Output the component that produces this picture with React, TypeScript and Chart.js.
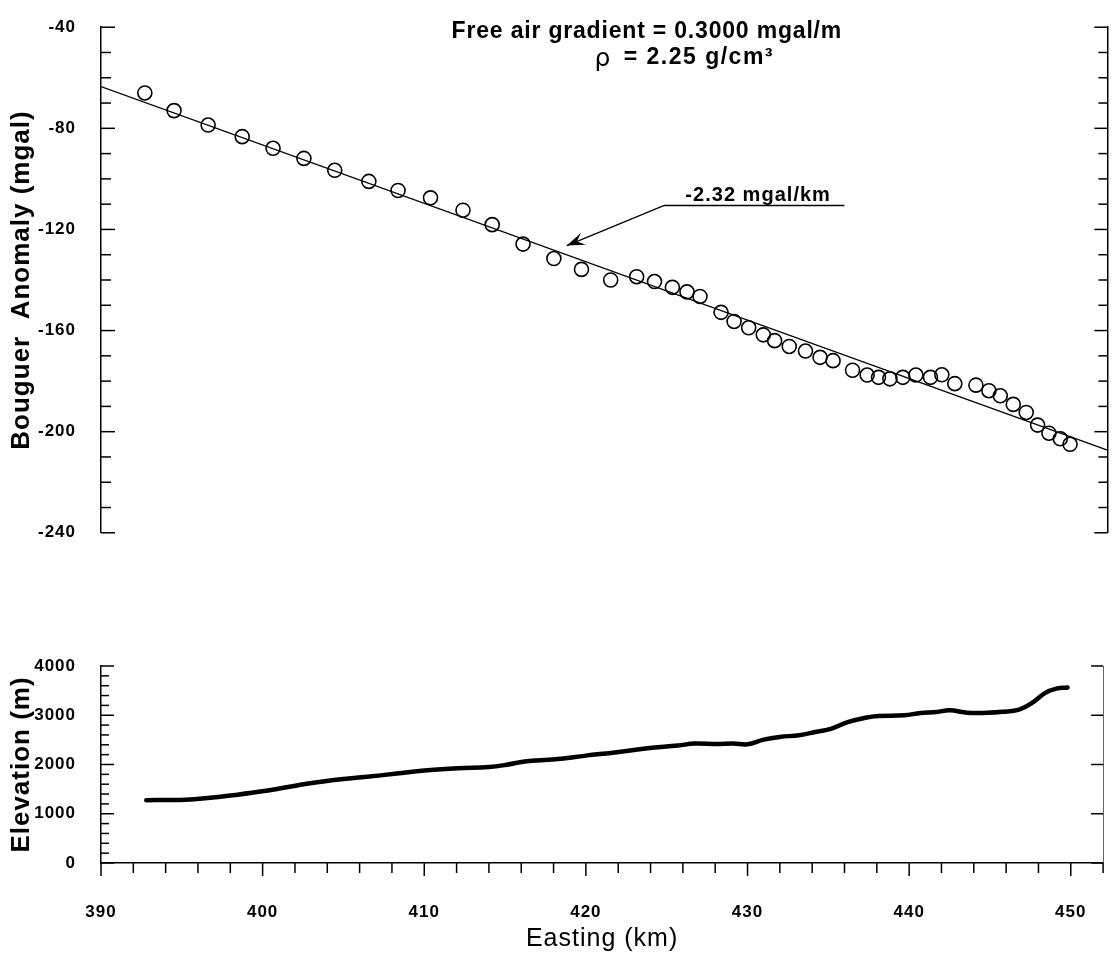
import React, { useEffect, useRef } from 'react';
import { Chart, registerables } from 'chart.js';

Chart.register(...registerables);

const FONT = '"Liberation Sans", Arial, Helvetica, sans-serif';

// ---------------- data ----------------
const EAST_MIN = 390;
const EAST_MAX = 452;
const ANOM_MIN = -240;
const ANOM_MAX = -40;
const ELEV_MIN = 0;
const ELEV_MAX = 4000;

const eastingTicks = [390, 400, 410, 420, 430, 440, 450];
const anomalyTicks = [-240, -200, -160, -120, -80, -40];
const elevationTicks = [0, 1000, 2000, 3000, 4000];

// Bouguer anomaly stations
const anomalyKm = [
  392.7, 394.5, 396.6, 398.7, 400.6, 402.5, 404.4, 406.5, 408.3, 410.3,
  412.3, 414.1, 416.0, 417.9, 419.6, 421.4, 423.0, 424.1, 425.2, 426.1,
  426.9, 428.2, 429.0, 429.9, 430.8, 431.5, 432.4, 433.4, 434.3, 435.1,
  436.3, 437.2, 437.9, 438.6, 439.4, 440.2, 441.1, 441.8, 442.6, 443.9,
  444.7, 445.4, 446.2, 447.0, 447.7, 448.4, 449.1, 449.7,
];
const anomalyMgal = [
  -66.0, -73.0, -78.7, -83.3, -87.9, -91.9, -96.6, -101.0, -104.6, -107.5,
  -112.4, -118.1, -125.8, -131.5, -135.8, -140.0, -138.7, -140.6, -142.9, -144.7,
  -146.5, -152.8, -156.4, -158.9, -161.7, -164.0, -166.3, -168.1, -170.6, -171.9,
  -175.7, -177.6, -178.5, -179.1, -178.5, -177.6, -178.5, -177.5, -181.0, -181.6,
  -183.8, -185.8, -189.2, -192.4, -197.4, -200.6, -202.8, -205.0,
];

// regression line end points
const fitKm = [390, 452];
const fitMgal = [-63.5, -207.3];

// elevation profile
const elevKm = [
  392.8, 394.0, 395.2, 396.6, 398.0, 400.1, 402.2, 404.3, 406.3, 408.3,
  410.0, 412.1, 414.0, 415.1, 416.2, 418.1, 420.0, 421.9, 423.8, 425.7,
  426.7, 428.1, 429.1, 430.0, 431.0, 432.0, 433.2, 434.2, 435.2, 436.2,
  437.3, 438.1, 439.7, 440.7, 441.7, 442.5, 443.6, 444.8, 445.8, 446.8,
  447.6, 448.4, 449.1, 449.8,
];
const elevM = [
  1275, 1280, 1285, 1320, 1370, 1460, 1580, 1680, 1745, 1815,
  1880, 1925, 1950, 1995, 2060, 2105, 2180, 2250, 2330, 2385,
  2425, 2415, 2425, 2410, 2505, 2560, 2595, 2660, 2730, 2860,
  2950, 2985, 3000, 3045, 3065, 3100, 3050, 3050, 3070, 3115,
  3250, 3450, 3540, 3565,
];

const headerLine1 = 'Free air gradient = 0.3000 mgal/m';
const headerRho = 'ρ';
const headerLine2 = '= 2.25 g/cm³';
const slopeLabel = '-2.32 mgal/km';

// ---------------- helpers ----------------
type TickSpec = {
  scale: string;
  side: 'left' | 'right' | 'bottom';
  min: number;
  max: number;
  step: number;
  major: number;
  minorLen: number;
  majorLen: number;
  width: number;
};

function makeTickPlugin(id: string, specs: TickSpec[]) {
  return {
    id,
    beforeDraw(chart: any) {
      chart.ctx.letterSpacing = '1px';
    },
    afterDraw(chart: any) {
      const { ctx, chartArea } = chart;
      ctx.save();
      ctx.strokeStyle = '#000';
      for (const s of specs) {
        const scale = chart.scales[s.scale];
        ctx.lineWidth = s.width;
        const n = Math.round((s.max - s.min) / s.step);
        for (let i = 0; i <= n; i++) {
          const v = s.min + i * s.step;
          const r = v / s.major;
          const isMajor = Math.abs(r - Math.round(r)) < 1e-6;
          const len = isMajor ? s.majorLen : s.minorLen;
          if (len <= 0) continue;
          const p = scale.getPixelForValue(v);
          ctx.beginPath();
          if (s.side === 'left') {
            ctx.moveTo(chartArea.left, p);
            ctx.lineTo(chartArea.left + len, p);
          } else if (s.side === 'right') {
            ctx.moveTo(chartArea.right, p);
            ctx.lineTo(chartArea.right - len, p);
          } else {
            ctx.moveTo(p, chartArea.bottom);
            ctx.lineTo(p, chartArea.bottom + len);
          }
          ctx.stroke();
        }
      }
      ctx.restore();
    },
  };
}

function fitText(ctx: CanvasRenderingContext2D, text: string, x: number, y: number, targetW: number) {
  (ctx as any).letterSpacing = '0px';
  const w = ctx.measureText(text).width;
  const n = Array.from(text).length;
  const ls = n > 1 ? Math.max(0, (targetW - w) / (n - 1)) : 0;
  (ctx as any).letterSpacing = ls.toFixed(2) + 'px';
  ctx.fillText(text, x, y);
  (ctx as any).letterSpacing = '0px';
}

// annotation anchors in data units (km, mgal)
const annot = {
  line1: { x0: 411.6, x1: 435.6, y: -41.9 },
  rho: { x: 420.4, y: -52.1 },
  line2: { x0: 422.2, y: -52.1 },
  slope: { x0: 426.0, x1: 434.9, y: -108.6 },
  underline: { x0: 424.7, x1: 435.8, y: -110.5 },
  tip: { x: 418.7, y: -126.4 },
};

const annotationPlugin = {
  id: 'anomalyAnnotations',
  afterDraw(chart: any) {
    const { ctx } = chart;
    const xs = chart.scales.x;
    const ys = chart.scales.y;
    const X = (v: number) => xs.getPixelForValue(v);
    const Y = (v: number) => ys.getPixelForValue(v);
    ctx.save();
    ctx.fillStyle = '#000';
    ctx.strokeStyle = '#000';
    ctx.textAlign = 'left';
    ctx.textBaseline = 'middle';
    ctx.font = `bold 23px ${FONT}`;
    fitText(ctx, headerLine1, X(annot.line1.x0), Y(annot.line1.y), X(annot.line1.x1) - X(annot.line1.x0));
    ctx.font = `25px "DejaVu Sans", ${FONT}`;
    (ctx as any).letterSpacing = '0px';
    ctx.fillText(headerRho, X(annot.rho.x), Y(annot.rho.y) + 2);
    ctx.font = `bold 23px ${FONT}`;
    (ctx as any).letterSpacing = '1.5px';
    ctx.fillText(headerLine2, X(annot.line2.x0), Y(annot.line2.y));
    (ctx as any).letterSpacing = '0px';

    ctx.textBaseline = 'alphabetic';
    ctx.font = `bold 20px ${FONT}`;
    fitText(ctx, slopeLabel, X(annot.slope.x0), Y(annot.slope.y), X(annot.slope.x1) - X(annot.slope.x0));

    // underline + leader
    const ux0 = X(annot.underline.x0);
    const ux1 = X(annot.underline.x1);
    const uy = Y(annot.underline.y);
    const tx = X(annot.tip.x);
    const ty = Y(annot.tip.y);
    ctx.lineWidth = 1.5;
    ctx.beginPath();
    ctx.moveTo(ux1, uy);
    ctx.lineTo(ux0, uy);
    ctx.lineTo(tx, ty);
    ctx.stroke();
    // arrow head
    const ang = Math.atan2(ty - uy, tx - ux0);
    const L = 18;
    const W = 6.5;
    const cx = Math.cos(ang);
    const sy = Math.sin(ang);
    const bx = tx - L * cx;
    const by = ty - L * sy;
    const nx = -sy;
    const ny = cx;
    ctx.beginPath();
    ctx.moveTo(tx, ty);
    ctx.lineTo(bx + nx * W, by + ny * W);
    ctx.lineTo(tx - L * 0.6 * cx, ty - L * 0.6 * sy);
    ctx.lineTo(bx - nx * W, by - ny * W);
    ctx.closePath();
    ctx.fill();
    ctx.restore();
  },
};

const plainNumber = (v: any) => String(v);

export default function App() {
  const topRef = useRef<HTMLCanvasElement>(null);
  const botRef = useRef<HTMLCanvasElement>(null);

  useEffect(() => {
    const tickFont = { family: FONT, size: 17, weight: 'bold' as const };
    const titleFont = { family: FONT, size: 26, weight: 'bold' as const };

    const top = new Chart(topRef.current as HTMLCanvasElement, {
      type: 'scatter',
      data: {
        datasets: [
          {
            label: 'Regression',
            data: fitKm.map((x, i) => ({ x, y: fitMgal[i] })),
            showLine: true,
            borderColor: '#000',
            borderWidth: 1.3,
            pointRadius: 0,
            order: 2,
          } as any,
          {
            label: 'Bouguer anomaly',
            data: anomalyKm.map((x, i) => ({ x, y: anomalyMgal[i] })),
            pointStyle: 'circle',
            pointRadius: 7,
            borderWidth: 1.6,
            borderColor: '#000',
            backgroundColor: 'rgba(0,0,0,0)',
            order: 1,
          } as any,
        ],
      },
      options: {
        animation: false,
        responsive: false,
        maintainAspectRatio: false,
        layout: { padding: { left: 0, right: 0, top: 15, bottom: 17 } },
        plugins: { legend: { display: false }, tooltip: { enabled: false } },
        scales: {
          x: { type: 'linear', min: EAST_MIN, max: EAST_MAX, display: false },
          y: {
            type: 'linear',
            position: 'left',
            min: ANOM_MIN,
            max: ANOM_MAX,
            afterFit: (s: any) => { s.width = 101; },
            afterBuildTicks: (s: any) => { s.ticks = anomalyTicks.map((v) => ({ value: v })); },
            ticks: { color: '#000', font: tickFont, padding: 17, callback: plainNumber },
            grid: { display: false },
            border: { display: true, color: '#000', width: 1.5 },
            title: {
              display: true,
              text: 'Bouguer  Anomaly (mgal)',
              color: '#000',
              font: titleFont,
              padding: { top: 6, bottom: 0 },
            },
          },
          y2: {
            type: 'linear',
            position: 'right',
            min: ANOM_MIN,
            max: ANOM_MAX,
            afterFit: (s: any) => { s.width = 1; },
            ticks: { display: false },
            grid: { display: false },
            border: { display: true, color: '#000', width: 1.5 },
          },
        },
      } as any,
      plugins: [
        makeTickPlugin('anomalyTicks', [
          { scale: 'y', side: 'left', min: ANOM_MIN, max: ANOM_MAX, step: 10, major: 40, minorLen: 10, majorLen: 14, width: 1.5 },
          { scale: 'y', side: 'right', min: ANOM_MIN, max: ANOM_MAX, step: 10, major: 40, minorLen: 9, majorLen: 13, width: 1.5 },
        ]),
        annotationPlugin,
      ],
    });

    const bot = new Chart(botRef.current as HTMLCanvasElement, {
      type: 'scatter',
      data: {
        datasets: [
          {
            label: 'Elevation',
            data: elevKm.map((x, i) => ({ x, y: elevM[i] })),
            showLine: true,
            borderColor: '#000',
            borderWidth: 4.5,
            borderCapStyle: 'round',
            borderJoinStyle: 'round',
            tension: 0.4,
            pointRadius: 0,
          } as any,
        ],
      },
      options: {
        animation: false,
        responsive: false,
        maintainAspectRatio: false,
        layout: { padding: { left: 0, right: 0, top: 106, bottom: 0 } },
        plugins: { legend: { display: false }, tooltip: { enabled: false } },
        scales: {
          x: {
            type: 'linear',
            position: 'bottom',
            min: EAST_MIN,
            max: EAST_MAX,
            afterFit: (s: any) => { s.height = 95; },
            afterBuildTicks: (s: any) => { s.ticks = eastingTicks.map((v) => ({ value: v })); },
            ticks: { color: '#000', font: tickFont, padding: 31, maxRotation: 0, autoSkip: false, callback: plainNumber },
            grid: { display: false },
            border: { display: true, color: '#000', width: 1.5 },
            title: {
              display: true,
              text: 'Easting (km)',
              color: '#000',
              font: { family: FONT, size: 25, weight: 'normal' },
              padding: { top: 0, bottom: 4 },
            },
          },
          y: {
            type: 'linear',
            position: 'left',
            min: ELEV_MIN,
            max: ELEV_MAX,
            afterFit: (s: any) => { s.width = 101; },
            afterBuildTicks: (s: any) => { s.ticks = elevationTicks.map((v) => ({ value: v })); },
            ticks: { color: '#000', font: tickFont, padding: 17, callback: plainNumber },
            grid: { display: false },
            border: { display: true, color: '#000', width: 1.5 },
            title: {
              display: true,
              text: 'Elevation (m)',
              color: '#000',
              font: titleFont,
              padding: { top: 6, bottom: 0 },
            },
          },
          y2: {
            type: 'linear',
            position: 'right',
            min: ELEV_MIN,
            max: ELEV_MAX,
            afterFit: (s: any) => { s.width = 1; },
            ticks: { display: false },
            grid: { display: false },
            border: { display: true, color: '#666', width: 1 },
          },
        },
      } as any,
      plugins: [
        makeTickPlugin('elevTicks', [
          { scale: 'y', side: 'left', min: ELEV_MIN, max: ELEV_MAX, step: 200, major: 1000, minorLen: 8, majorLen: 13, width: 1.5 },
          { scale: 'y', side: 'right', min: ELEV_MIN, max: ELEV_MAX, step: 1000, major: 1000, minorLen: 0, majorLen: 12, width: 1.5 },
          { scale: 'x', side: 'bottom', min: EAST_MIN, max: EAST_MAX, step: 2, major: 10, minorLen: 10, majorLen: 13, width: 1.5 },
        ]),
      ],
    });

    return () => {
      top.destroy();
      bot.destroy();
    };
  }, []);

  return (
    <div style={{ position: 'absolute', left: 0, top: 0, width: 1116, height: 958, background: '#fff' }}>
      <canvas ref={topRef} width={1116} height={560} style={{ position: 'absolute', left: 0, top: 0 }} />
      <canvas ref={botRef} width={1116} height={398} style={{ position: 'absolute', left: 0, top: 560 }} />
    </div>
  );
}
